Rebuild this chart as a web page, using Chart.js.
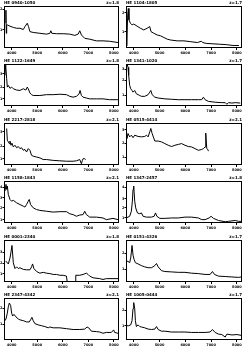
<!DOCTYPE html>
<html>
<head>
<meta charset="utf-8">
<script src="https://cdn.jsdelivr.net/npm/chart.js@4/dist/chart.umd.min.js"></script>
<style>
html, body { margin: 0; padding: 0; background: #fff; }
#grid { width: 245px; height: 350px; position: relative; }
canvas { position: absolute; display: block; }
</style>
</head>
<body>
<div id="grid"></div>
<script>
// spectra, flux in % of the panel box
var titles = ['HE 0940-1050', 'HE 1104-1805', 'HE 1122-1649', 'HE 1341-1020', 'HE 2217-2818', 'HE 0515-4414',
              'HE 1158-1843', 'HE 1347-2457', 'HE 0001-2340', 'HE 0151-4326', 'HE 2347-4342', 'HE 1005-0444'];
var zLabels = ['z=1.8', 'z=1.7', 'z=1.8', 'z=1.7', 'z=2.1', 'z=2.1', 'z=2.1', 'z=1.8', 'z=1.8', 'z=1.7', 'z=2.1', 'z=1.7'];
var xTicks = [4000, 5000, 6000, 7000, 8000];

var wl1 = [3760,3775,3790,3805,3830,3934,4064,4194,4324,4454,4520,4610,4660,4714,4844,5104,5364,5494,5533,5572,5754,6014,6274,6470,6600,6664,6730,6860,7054,7314,7574,7834,8159];
var fx1 = [60,90,35,55,55,52,49,47,47,44,51,59,51,39,37,35,33,35,41,35,34,34,33,30,33,41,31,23,21,17,17,16,13];
var wl2 = [3715,3725,3760,3790,3815,3870,3935,4000,4130,4260,4390,4520,4620,4670,4780,4910,5040,5170,5300,5430,5690,5950,6210,6470,6620,6680,6810,7070,7330,7590,7850,8080];
var fx2 = [85,5,70,94,67,59,55,57,52,47,43,47,51,39,35,31,29,25,21,19,17,17,15,13,16,13,11,10,9,8,6,6];
var wl3 = [3739,3765,3804,3830,3869,3934,3999,4064,4194,4324,4454,4558,4610,4649,4714,4779,4844,5104,5364,5624,5884,6144,6274,6404,6534,6638,6677,6729,6794,6924,7054,7314,7574,7834,8159];
var fx3 = [73,98,65,45,49,42,45,41,38,37,41,38,45,41,31,27,25,25,27,27,28,27,23,21,23,29,37,25,21,19,17,17,17,15,15];
var wl4 = [3713,3752,3778,3804,3843,3882,3934,3973,4038,4103,4168,4233,4298,4428,4558,4623,4662,4714,4818,4948,5208,5468,5728,5988,6248,6508,6638,6703,6768,6898,7158,7418,7548,7613,7678,7808,7938,8133];
var fx4 = [96,98,92,73,49,41,37,33,37,29,27,25,23,23,27,33,37,27,21,19,17,16,15,15,15,15,15,21,15,11,9,8,8,4,8,7,8,7];
var wl5 = [3804,3830,3869,3908,3934,3973,4012,4064,4129,4194,4259,4324,4389,4454,4519,4584,4649,4714,4779,4844,4974,5104,5234,5364,5624,5884,6144,6404,6534,6664,6729,6768,6794,6859,6898];
var fx5 = [87,59,55,51,57,47,52,43,47,41,44,39,41,35,37,31,39,35,23,21,19,17,13,13,11,10,9,9,10,13,3,11,15,15,13];
var wl6 = [3713,3739,3778,3843,3908,3973,4038,4168,4298,4428,4493,4558,4623,4662,4714,4818,4948,5078,5208,5338,5468,5598,5728,5858,5988,6118,6248,6378,6508,6638,6703,6768,6794,6833,6872,6898];
var fx6 = [83,63,75,67,71,65,71,68,67,68,71,67,79,87,75,57,57,55,51,47,44,47,49,51,47,44,43,39,35,37,39,43,76,39,37,33];
var wl7 = [3739,3778,3804,3830,3869,3934,3999,4064,4194,4324,4454,4519,4584,4649,4688,4740,4844,4974,5104,5364,5624,5884,6144,6274,6404,6534,6664,6794,6859,6924,7054,7314,7574,7704,7964,8159];
var fx7 = [76,92,80,88,68,56,52,54,48,44,40,38,44,52,56,44,36,32,30,28,26,27,27,22,20,16,19,20,28,20,14,14,12,8,11,8];
var wl8 = [3713,3778,3843,3908,3947,3973,3999,4038,4077,4142,4233,4298,4363,4493,4688,4792,4844,4896,5013,5208,5468,5728,5988,6248,6508,6638,6768,6924,7002,7093,7288,7548,7678,7938,8068,8172];
var fx8 = [12,14,16,28,52,80,88,52,36,24,22,24,16,14,14,16,24,16,11,11,12,12,14,14,12,8,8,12,16,11,6,3,4,6,4,4];
var wl9 = [3765,3869,3934,3973,4012,4064,4129,4194,4259,4324,4454,4584,4714,4779,4818,4870,4974,5104,5234,5364,5494,5624,5754,5884,6014,6144,6183,6300,6482,6508,6664,6794,6924,6989,7054,7184,7444,7574,7704,7964,8198];
var fx9 = [50,43,57,71,87,46,32,36,32,34,30,29,29,36,43,32,25,21,23,21,20,18,18,16,16,14,-5,null,-5,16,16,18,21,18,14,10,8,6,8,8,8];
var wl10 = [3713,3778,3843,3882,3908,3934,3973,4012,4064,4168,4298,4428,4558,4688,4818,4883,4948,5078,5208,5468,5728,5988,6248,6508,6768,6963,7054,7132,7288,7548,7808,8068,8172];
var fx10 = [50,49,46,57,71,87,64,54,46,43,39,36,34,34,39,44,36,27,25,24,23,23,21,20,18,18,25,18,14,13,12,11,12];
var wl11 = [3739,3778,3830,3869,3908,3960,3999,4038,4090,4168,4259,4324,4454,4584,4688,4740,4792,4844,4909,5039,5169,5299,5429,5494,5624,5884,6144,6404,6664,6859,6950,7015,7119,7314,7444,7574,7704,7899,7990,8029,8159];
var fx11 = [46,50,64,79,88,82,64,57,61,55,50,48,46,43,43,48,54,46,39,36,34,32,29,31,29,29,27,25,25,26,31,29,21,20,19,16,18,18,24,18,16];
var wl12 = [3713,3804,3882,3934,3973,3999,4038,4064,4103,4168,4233,4298,4428,4558,4688,4818,4883,4948,5078,5208,5468,5728,5988,6248,6508,6768,6963,7054,7158,7288,7418,7548,7613,7808,8003,8172];
var fx12 = [34,34,36,46,75,89,75,46,32,36,32,31,29,26,25,26,32,25,21,21,19,19,19,18,18,18,19,25,18,14,13,7,14,12,13,11];

// y tick positions and labels per panel
var yTicks = [[43,92],[39,84],[17,45,77],[25,61,88],[15,44,79],[19,51,84],
              [8,36,60,85],[12,36,58,85],[20,44,71],[30,68],[38,76],[34,71]];
var yLabels = [['1','2'],['1','2'],['1','2','3'],['1','2','3'],['1','2','3'],['1','2','3'],
               ['1','2','3','4'],['1','2','3','4'],['1','2','3'],['1','2'],['1','2'],['1','2']];

var waves = [wl1, wl2, wl3, wl4, wl5, wl6, wl7, wl8, wl9, wl10, wl11, wl12];
var fluxes = [fx1, fx2, fx3, fx4, fx5, fx6, fx7, fx8, fx9, fx10, fx11, fx12];

var boxPlugin = {
  id: 'box',
  afterDraw: function(chart) {
    var a = chart.chartArea, c = chart.ctx;
    c.save();
    c.strokeStyle = '#000';
    c.lineWidth = 1;
    c.strokeRect(Math.round(a.left) + 0.5, Math.round(a.top) + 0.5,
                 Math.round(a.right - a.left) - 1, Math.round(a.bottom - a.top) - 1);
    var o = chart.options.plugins.box;
    c.fillStyle = '#000';
    c.font = 'bold 4px "DejaVu Sans"';
    c.textBaseline = 'top';
    c.textAlign = 'left';
    c.fillText(o.title, a.left, 0.5);
    c.textAlign = 'right';
    c.fillText(o.z, a.right, 0.5);
    c.restore();
  }
};

var grid = document.getElementById('grid');
for (var i = 0; i < 12; i++) {
  var col = i % 2, row = Math.floor(i / 2);
  var cv = document.createElement('canvas');
  cv.width = col ? 123 : 122;
  cv.height = 58;
  cv.style.left = (col ? 122 : 0) + 'px';
  cv.style.top = Math.round(row * 58.4) + 'px';
  grid.appendChild(cv);

  var pts = [];
  for (var k = 0; k < waves[i].length; k++) pts.push({ x: waves[i][k], y: fluxes[i][k] });

  (function(i) {
    new Chart(cv.getContext('2d'), {
      type: 'scatter',
      data: { datasets: [{ data: pts, showLine: true, borderColor: '#000', borderWidth: 1,
                           pointRadius: 0, spanGaps: false, tension: 0 }] },
      options: {
        responsive: false,
        animation: false,
        layout: { padding: { top: 6, right: 3, left: 0, bottom: 0 } },
        plugins: { legend: { display: false }, tooltip: { enabled: false },
                   box: { title: titles[i], z: zLabels[i] } },
        scales: {
          x: {
            type: 'linear', min: 3700, max: 8200,
            afterBuildTicks: function(s) { s.ticks = xTicks.map(function(v) { return { value: v }; }); },
            afterFit: function(s) { s.height = 10; },
            ticks: { font: { size: 3.5, family: 'DejaVu Sans', weight: 'bold' }, color: '#000',
                     padding: 1, maxRotation: 0, autoSkip: false,
                     callback: function(v) { return String(v); } },
            grid: { drawOnChartArea: false, tickLength: 2, color: '#000' },
            border: { display: false }
          },
          y: {
            min: 0, max: 100,
            afterBuildTicks: function(s) { s.ticks = yTicks[i].map(function(v) { return { value: v }; }); },
            afterFit: function(s) { s.width = 4; },
            ticks: { font: { size: 3.5, family: 'DejaVu Sans', weight: 'bold' }, color: '#000', padding: 0,
                     callback: function(v, idx) { return yLabels[i][idx]; } },
            grid: { drawOnChartArea: false, tickLength: 1.5, color: '#000' },
            border: { display: false }
          }
        }
      },
      plugins: [boxPlugin]
    });
  })(i);
}
</script>
</body>
</html>
